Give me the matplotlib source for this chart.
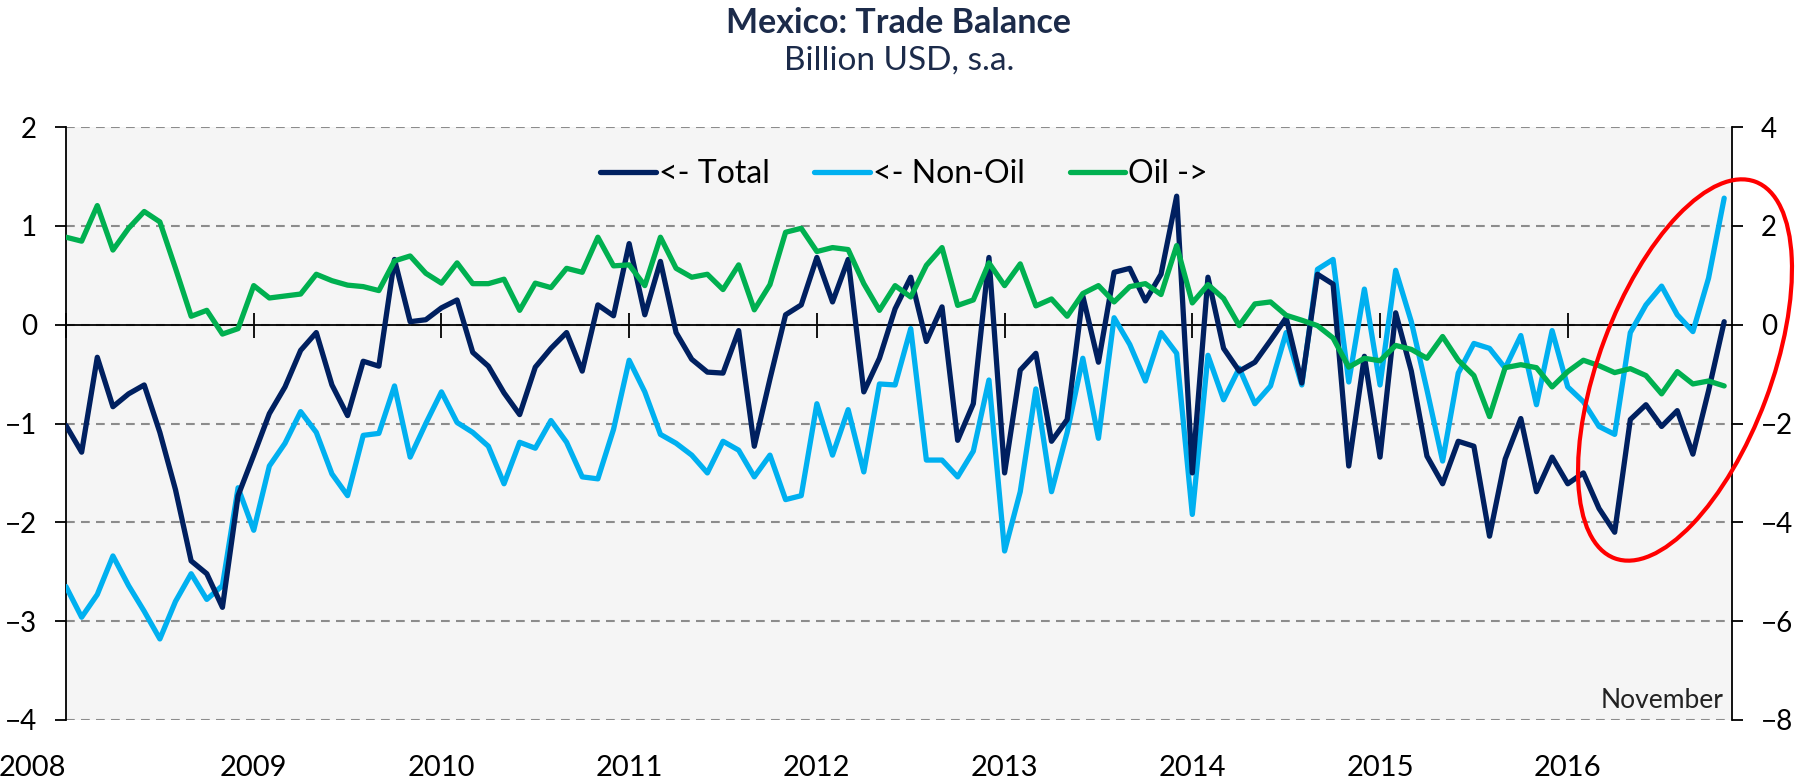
import matplotlib
matplotlib.use("Agg")
import matplotlib.pyplot as plt
from matplotlib.patches import Ellipse

plt.rcParams['font.family'] = ['Lato', 'DejaVu Sans']

# Monthly data, Jan 2008 .. Nov 2016 (billion USD, s.a.)
total = [-1.02, -1.29, -0.33, -0.83, -0.70, -0.61, -1.09, -1.67, -2.39, -2.52, -2.86, -1.73,
         -1.32, -0.90, -0.63, -0.26, -0.08, -0.61, -0.92, -0.37, -0.42, 0.66, 0.03, 0.05,
         0.17, 0.25, -0.28, -0.42, -0.69, -0.91, -0.43, -0.24, -0.08, -0.47, 0.20, 0.09,
         0.82, 0.10, 0.64, -0.08, -0.35, -0.48, -0.49, -0.06, -1.23, -0.55, 0.10, 0.20,
         0.68, 0.23, 0.66, -0.68, -0.34, 0.16, 0.48, -0.17, 0.18, -1.17, -0.80, 0.68,
         -1.50, -0.46, -0.29, -1.18, -0.96, 0.29, -0.38, 0.53, 0.57, 0.24, 0.51, 1.30,
         -1.50, 0.48, -0.24, -0.47, -0.38, -0.16, 0.07, -0.59, 0.51, 0.41, -1.43, -0.32,
         -1.34, 0.12, -0.47, -1.33, -1.61, -1.18, -1.23, -2.14, -1.36, -0.95, -1.69, -1.34,
         -1.61, -1.50, -1.86, -2.10, -0.96, -0.81, -1.03, -0.87, -1.31, -0.67, 0.03]

non_oil = [-2.65, -2.96, -2.73, -2.34, -2.64, -2.90, -3.18, -2.80, -2.52, -2.78, -2.64, -1.65,
           -2.08, -1.43, -1.20, -0.88, -1.09, -1.51, -1.73, -1.12, -1.10, -0.62, -1.34, -1.00,
           -0.68, -0.99, -1.09, -1.23, -1.61, -1.19, -1.25, -0.97, -1.19, -1.54, -1.56, -1.06,
           -0.36, -0.68, -1.11, -1.20, -1.32, -1.50, -1.18, -1.27, -1.54, -1.32, -1.77, -1.73,
           -0.80, -1.32, -0.86, -1.49, -0.60, -0.61, -0.04, -1.37, -1.37, -1.54, -1.28, -0.56,
           -2.29, -1.69, -0.65, -1.69, -1.09, -0.34, -1.15, 0.07, -0.20, -0.57, -0.08, -0.29,
           -1.92, -0.31, -0.76, -0.44, -0.80, -0.62, -0.08, -0.61, 0.56, 0.66, -0.58, 0.36,
           -0.61, 0.55, 0.03, -0.66, -1.38, -0.49, -0.19, -0.24, -0.44, -0.11, -0.81, -0.06,
           -0.63, -0.78, -1.03, -1.11, -0.08, 0.20, 0.39, 0.10, -0.07, 0.47, 1.28]

oil = [1.77, 1.69, 2.41, 1.51, 1.95, 2.29, 2.08, 1.14, 0.17, 0.29, -0.19, -0.08,
       0.79, 0.54, 0.58, 0.62, 1.02, 0.89, 0.80, 0.77, 0.69, 1.29, 1.39, 1.04,
       0.84, 1.25, 0.83, 0.83, 0.92, 0.29, 0.84, 0.75, 1.14, 1.06, 1.77, 1.19,
       1.21, 0.79, 1.77, 1.14, 0.96, 1.02, 0.71, 1.21, 0.30, 0.81, 1.87, 1.95,
       1.48, 1.56, 1.52, 0.83, 0.29, 0.79, 0.56, 1.20, 1.56, 0.39, 0.50, 1.25,
       0.79, 1.23, 0.38, 0.52, 0.17, 0.63, 0.79, 0.46, 0.77, 0.83, 0.61, 1.60,
       0.44, 0.81, 0.53, -0.02, 0.42, 0.46, 0.19, 0.09, -0.02, -0.27, -0.86, -0.68,
       -0.73, -0.42, -0.50, -0.68, -0.24, -0.72, -1.03, -1.86, -0.87, -0.81, -0.87, -1.26,
       -0.95, -0.72, -0.83, -0.97, -0.89, -1.03, -1.40, -0.95, -1.20, -1.14, -1.24]

years = ['2008', '2009', '2010', '2011', '2012', '2013', '2014', '2015', '2016']
year_pos = [12 * i for i in range(len(years))]
months = list(range(len(total)))

c_total = '#002060'
c_nonoil = '#00B0F0'
c_oil = '#00B050'
title_col = '#1C2B4A'

fig = plt.figure(figsize=(18.03, 7.79), dpi=100)
ax = fig.add_axes([66 / 1803, 1 - 720 / 779, (1732 - 66) / 1803, (720 - 127) / 779])
ax.set_facecolor('#F5F5F5')
ax2 = ax.twinx()

l1, = ax.plot(months, total, color=c_total, lw=3.8, label='<- Total', zorder=4,
              solid_joinstyle='round', solid_capstyle='round')
l2, = ax.plot(months, non_oil, color=c_nonoil, lw=3.8, label='<- Non-Oil', zorder=3,
              solid_joinstyle='round', solid_capstyle='round')
l3, = ax2.plot(months, oil, color=c_oil, lw=3.8, label='Oil ->', zorder=3,
               solid_joinstyle='round', solid_capstyle='round')

ax.set_xlim(0, 106.5)
ax.set_ylim(-4, 2)
ax2.set_ylim(-8, 4)
ax.set_yticks(range(-4, 3))
ax2.set_yticks(range(-8, 5, 2))

ax.grid(axis='y', color='#8C8C8C', lw=1.5, ls=(0, (4.2, 3.0)))
ax.set_axisbelow(True)

ax.spines['top'].set_visible(False)
ax.spines['right'].set_visible(False)
for s in ['top', 'bottom', 'left']:
    ax2.spines[s].set_visible(False)
ax.spines['bottom'].set_position(('data', 0))
ax.spines['bottom'].set_linewidth(1.3)
ax.spines['left'].set_linewidth(1.3)
ax2.spines['right'].set_linewidth(1.3)

ax.set_xticks(year_pos)
ax.tick_params(axis='x', direction='inout', length=18, width=1.3, labelbottom=False)
ax.tick_params(axis='y', direction='out', length=8, width=1.3, labelsize=20, pad=13)
ax2.tick_params(axis='y', direction='out', length=8, width=1.3, labelsize=20, pad=13)

sec = ax.secondary_xaxis('bottom')
sec.set_xticks(year_pos, years)
sec.tick_params(length=0, pad=25, labelsize=21)
sec.spines['bottom'].set_visible(False)
sec.get_xticklabels()[0].set_horizontalalignment('right')

ax.text(0.995, 0.012, 'November', transform=ax.transAxes, ha='right', va='bottom',
        fontsize=19, color='#222222')

leg = ax.legend(handles=[l1, l2, l3], loc='upper center', bbox_to_anchor=(0.503, 0.995),
                ncol=3, frameon=False, fontsize=23, handlelength=1.75, handletextpad=0.08,
                columnspacing=1.4)

fig.text(0.4985, 0.970, 'Mexico: Trade Balance', ha='center', va='center',
         fontsize=24.5, fontweight='bold', color=title_col)
fig.text(0.4985, 0.922, 'Billion USD, s.a.', ha='center', va='center',
         fontsize=24, color=title_col)

# highlight of the latest months
fig.patches.append(Ellipse((16.85, 4.09), 4.02, 1.72, angle=69.5, fill=False,
                           edgecolor='#FF0000', lw=3.0, transform=fig.dpi_scale_trans))

fig.savefig('out.png', dpi=100)
